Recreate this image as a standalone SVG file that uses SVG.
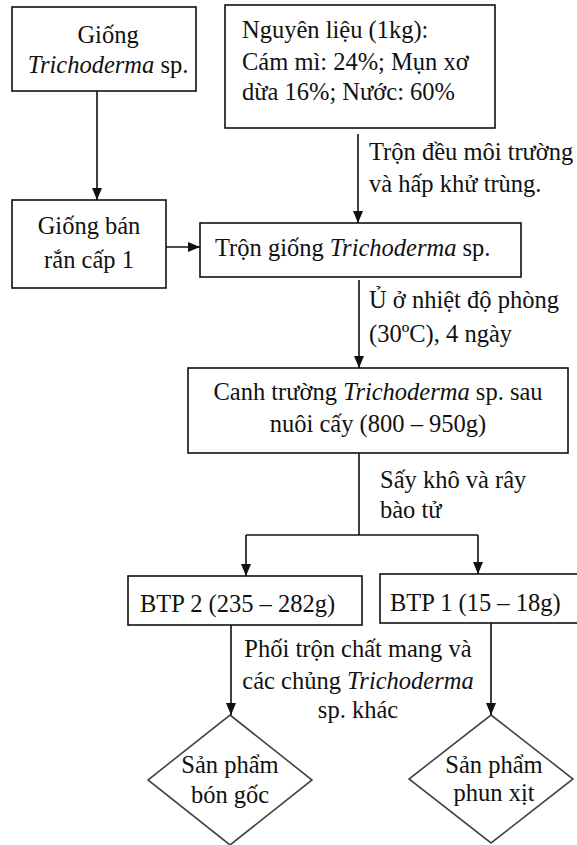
<svg xmlns="http://www.w3.org/2000/svg" width="577" height="845" viewBox="0 0 577 845">
<style>
.box{fill:#fff;stroke:#111;stroke-width:1.6}
.dia{fill:#fff;stroke:#444;stroke-width:1.6}
.t{font-family:"Liberation Serif","Times New Roman",serif;font-size:24.5px;fill:#111}
.c{text-anchor:middle}
.i{font-style:italic}
.ln{fill:none;stroke:#111;stroke-width:1.6}
</style>
<defs>
<marker id="ah" viewBox="0 0 12 10" refX="12" refY="5" markerWidth="12" markerHeight="10" markerUnits="userSpaceOnUse" orient="auto">
<path d="M0,0 L12,5 L0,10 z" fill="#111"/>
</marker>
</defs>
<rect width="577" height="845" fill="#fff"/>
<g id="n1">
<rect class="box" x="12" y="7" width="184" height="84"/>
<text class="t c" x="108" y="43">Giống</text>
<text class="t c" x="108" y="73"><tspan class="i">Trichoderma</tspan> sp.</text>
</g>
<g id="n2">
<rect class="box" x="225" y="5" width="270" height="123"/>
<text class="t" x="242" y="38">Nguyên liệu (1kg):</text>
<text class="t" x="242" y="70">Cám  mì: 24%; Mụn xơ</text>
<text class="t" x="242" y="100">dừa 16%; Nước: 60%</text>
</g>
<g id="n3">
<rect class="box" x="12" y="200" width="154" height="88"/>
<text class="t c" x="89" y="234">Giống bán</text>
<text class="t c" x="89" y="268">rắn cấp 1</text>
</g>
<g id="n4">
<rect class="box" x="200" y="223" width="321" height="54"/>
<text class="t" x="215" y="256">Trộn giống <tspan class="i">Trichoderma</tspan> sp.</text>
</g>
<g id="n5">
<rect class="box" x="188" y="368" width="380" height="85"/>
<text class="t c" x="378" y="400">Canh trường <tspan class="i">Trichoderma</tspan> sp. sau</text>
<text class="t c" x="378" y="432">nuôi cấy (800  – 950g)</text>
</g>
<g id="n6">
<rect class="box" x="128" y="576" width="234" height="49"/>
<text class="t" x="140" y="612">BTP 2 (235  – 282g)</text>
</g>
<g id="n7">
<rect class="box" x="380" y="574" width="200" height="49"/>
<text class="t" x="390" y="611">BTP 1 (15 – 18g)</text>
</g>
<g id="n8">
<polygon class="dia" points="230,715 312,780 230,845 148,780"/>
<text class="t c" x="230" y="773">Sản phẩm</text>
<text class="t c" x="230" y="803">bón gốc</text>
</g>
<g id="n9">
<polygon class="dia" points="491,715 573,779 491,843 409,779"/>
<text class="t c" x="494" y="773">Sản phẩm</text>
<text class="t c" x="494" y="801">phun xịt</text>
</g>
<g id="connectors">
<line class="ln" x1="97" y1="91" x2="97" y2="200" marker-end="url(#ah)"/>
<line class="ln" x1="358" y1="134" x2="358" y2="223" marker-end="url(#ah)"/>
<line class="ln" x1="166" y1="247" x2="200" y2="247" marker-end="url(#ah)"/>
<line class="ln" x1="359" y1="280" x2="359" y2="368" marker-end="url(#ah)"/>
<polyline class="ln" points="359,453 359,535"/>
<line class="ln" x1="246" y1="535" x2="478" y2="535"/>
<line class="ln" x1="246" y1="535" x2="246" y2="576" marker-end="url(#ah)"/>
<line class="ln" x1="478" y1="535" x2="478" y2="574" marker-end="url(#ah)"/>
<line class="ln" x1="231" y1="625" x2="231" y2="715" marker-end="url(#ah)"/>
<line class="ln" x1="491" y1="623" x2="491" y2="715" marker-end="url(#ah)"/>
<text class="t" x="369" y="160">Trộn đều môi trường</text>
<text class="t" x="369" y="192">và hấp khử trùng.</text>
<text class="t" x="369" y="308">Ủ ở nhiệt độ phòng</text>
<text class="t" x="369" y="342">(30ºC),  4 ngày</text>
<text class="t" x="380" y="488">Sấy khô và rây</text>
<text class="t" x="380" y="518">bào tử</text>
<text class="t c" x="358" y="657">Phối trộn chất mang và</text>
<text class="t c" x="358" y="689">các chủng <tspan class="i">Trichoderma</tspan></text>
<text class="t c" x="358" y="718">sp. khác</text>
</g>
</svg>
